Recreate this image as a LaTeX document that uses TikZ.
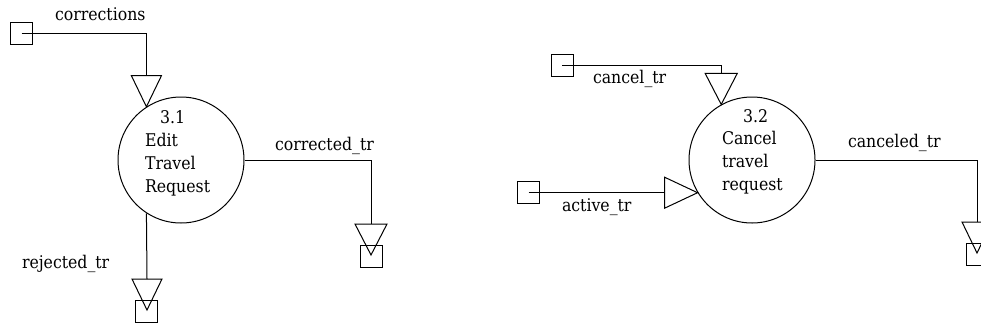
\documentclass[tikz,border=0pt]{standalone}
\usepackage{fontspec}
\newfontfamily\labelfont{DejaVu Serif Condensed}
\begin{document}
\begin{tikzpicture}[x=1pt,y=-1pt,line width=1pt,
  lbl/.style={font=\labelfont\fontsize{17.5}{23}\selectfont, inner sep=0pt, outer sep=0pt},
  proc/.style={draw, circle, minimum size=126pt, inner sep=0pt},
  store/.style={draw, minimum size=22pt, inner sep=0pt},
  flow/.style={draw, line join=miter}]
\useasboundingbox (0,0) rectangle (981,335);

% ---------- process 3.1 ----------
\node[proc] (p31) at (181,160) {};
\node[lbl, anchor=base west] (n31) at (160,123) {3.1};
\node[lbl, anchor=north west, align=left] (t31) at (145,133.3) {Edit\\Travel\\Request};

% corrections (in)
\node[store] (s1) at (21.5,33.5) {};
\coordinate (a1) at (p31.123);
\coordinate (a1b) at ([yshift=31pt]a1);
\draw[flow] (s1.center) -| (a1b);
\draw (a1) -- ++(-15,-31) -- ++(30,0) -- cycle;
\node[lbl, anchor=base west] (l1) at (55,20) {corrections};

% corrected_tr (out)
\node[store] (s3) at (371,256) {};
\coordinate (a3) at (371,255);
\coordinate (a3b) at ([yshift=31pt]a3);
\draw[flow] (p31.east) -| (a3b);
\draw (a3) -- ++(-16,-31) -- ++(32,0) -- cycle;
\node[lbl, anchor=base west] (l3) at (275,150) {corrected\_tr};

% rejected_tr (out)
\node[store] (s2) at (146,311) {};
\coordinate (a2) at (147,310);
\coordinate (a2b) at ([yshift=31pt]a2);
\draw[flow] (p31.-123) -- (a2b);
\draw (a2) -- ++(-15,-31) -- ++(30,0) -- cycle;
\node[lbl, anchor=base west] (l2) at (22,268) {rejected\_tr};

% ---------- process 3.2 ----------
\node[proc] (p32) at (752,160) {};
\node[lbl, anchor=base west] (n32) at (743,122) {3.2};
\node[lbl, anchor=north west, align=left] (t32) at (722,131.3) {Cancel\\travel\\request};

% cancel_tr (in)
\node[store] (s4) at (562,65) {};
\coordinate (a4) at (p32.119);
\coordinate (a4b) at ([yshift=31pt]a4);
\draw[flow] (s4.center) -| (a4b);
\draw (a4) -- ++(-16,-31) -- ++(32,0) -- cycle;
\node[lbl, anchor=base west] (l4) at (593,83) {cancel\_tr};

% active_tr (in)
\coordinate (a5) at (p32.211);
\coordinate (a5b) at ([xshift=-33pt]a5);
\node[store] (s5) at ([xshift=-169pt]a5) {};
\draw[flow] (s5.center) -- (a5b);
\draw (a5) -- ++(-33,-15.5) -- ++(0,31) -- cycle;
\node[lbl, anchor=base west] (l5) at (562,211) {active\_tr};

% canceled_tr (out)
\node[store] (s6) at (977,254) {};
\coordinate (a6) at (977,253);
\coordinate (a6b) at ([yshift=31pt]a6);
\draw[flow] (p32.east) -| (a6b);
\draw (a6) -- ++(-15,-31) -- ++(30,0) -- cycle;
\node[lbl, anchor=base west] (l6) at (848,147) {canceled\_tr};
\end{tikzpicture}
\end{document}
